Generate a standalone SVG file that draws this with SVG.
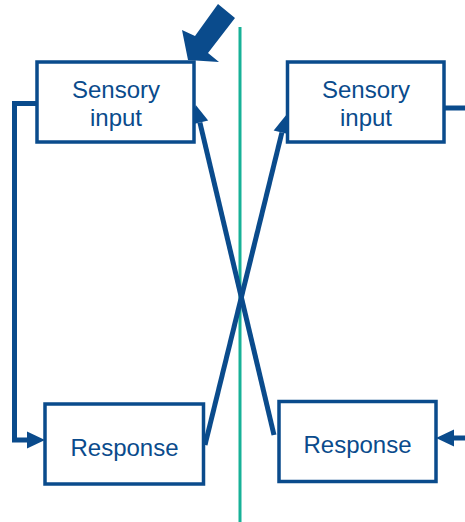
<svg xmlns="http://www.w3.org/2000/svg" width="465" height="522" viewBox="0 0 465 522">
  <style>
    .box { fill: #ffffff; stroke: #0a4b8c; stroke-width: 3.5; }
    .label { font-family: "Liberation Sans", Arial, sans-serif; font-size: 24px; fill: #0a4b8c; text-anchor: middle; }
    .wire { fill: none; stroke: #0a4b8c; stroke-width: 5; }
    .divider { stroke: #17b197; stroke-width: 3; }
  </style>
  <defs>
    <marker id="head" viewBox="0 0 18 17" refX="0" refY="8.5" markerWidth="18" markerHeight="17" markerUnits="userSpaceOnUse" orient="auto" overflow="visible">
      <path d="M0,0 L18,8.5 L0,17 Z" fill="#0a4b8c"/>
    </marker>
  </defs>

  <!-- vertical divider -->
  <line class="divider" x1="240" y1="27" x2="240" y2="522"/>

  <!-- connectors -->
  <g id="connectors">
    <path class="wire" d="M37,103.5 H14.5 V440 H27" marker-end="url(#head)"/>
    <path class="wire" d="M444,108 H466"/>
    <path class="wire" d="M466,438 H454" marker-end="url(#head)"/>
    <path class="wire" d="M205,445 L281.9,132.5" marker-end="url(#head)"/>
    <path class="wire" d="M274,435 L199.9,122.5" marker-end="url(#head)"/>
  </g>

  <g id="sensory-left">
    <rect class="box" x="37" y="62" width="157" height="80"/>
    <text class="label" x="116" y="97.5">Sensory</text>
    <text class="label" x="116" y="126">input</text>
  </g>

  <g id="sensory-right">
    <rect class="box" x="287.5" y="62" width="156.5" height="80"/>
    <text class="label" x="366" y="97.5">Sensory</text>
    <text class="label" x="366" y="126">input</text>
  </g>

  <g id="response-left">
    <rect class="box" x="45" y="404" width="158.5" height="80"/>
    <text class="label" x="124.5" y="456">Response</text>
  </g>

  <g id="response-right">
    <rect class="box" x="279" y="401.5" width="157" height="80"/>
    <text class="label" x="357.5" y="453">Response</text>
  </g>

  <!-- block arrow pointing at the left sensory box -->
  <polygon points="218,4 235,18 208,53 219,62 188,60 182,30 195,36" fill="#0a4b8c"/>
</svg>
